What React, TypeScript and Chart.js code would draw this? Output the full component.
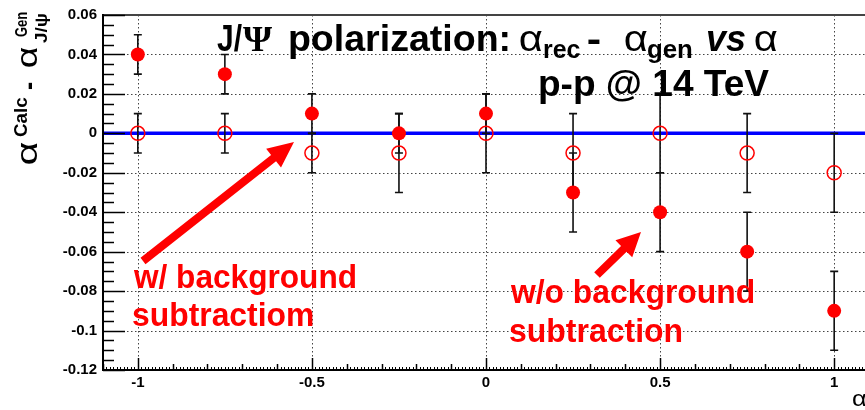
import React, { useEffect, useRef } from 'react';
import { Chart, registerables } from 'chart.js';

Chart.register(...registerables);

// ---- data ----
const ALPHA = [-1, -0.75, -0.5, -0.25, 0, 0.25, 0.5, 0.75, 1];
// w/o background subtraction (filled markers)
const WO_SUB = [0.04, 0.03, 0.01, 0, 0.01, -0.03, -0.04, -0.06, -0.09];
const WO_SUB_ERR = [0.01, 0.01, 0.01, 0.01, 0.01, 0.02, 0.02, 0.02, 0.02];
// w/ background subtraction (open markers)
const W_SUB = [0, 0, -0.01, -0.01, 0, -0.01, 0, -0.01, -0.02];
const W_SUB_ERR = [0.01, 0.01, 0.01, 0.02, 0.02, 0.02, 0.02, 0.02, 0.02];

const X_MIN = -1.1;
const X_MAX = 1.1;
const Y_MIN = -0.12;
const Y_MAX = 0.06;
const REF_LINE = [X_MIN, X_MAX];
const X_TICKS = [-1, -0.5, 0, 0.5, 1];
const X_TICK_LABELS = ['-1', '-0.5', '0', '0.5', '1'];
const Y_TICKS = [0.06, 0.04, 0.02, 0, -0.02, -0.04, -0.06, -0.08, -0.1, -0.12];
const Y_TICK_LABELS = ['0.06', '0.04', '0.02', '0', '-0.02', '-0.04', '-0.06', '-0.08', '-0.1', '-0.12'];

const SANS = '"Liberation Sans", Arial, Helvetica, sans-serif';
const SERIF = '"Liberation Serif", "Times New Roman", serif';
const RED = '#ff0000';

function fitText(ctx: CanvasRenderingContext2D, text: string, font: string, x0: number, x1: number, baseline: number, color: string) {
  ctx.save();
  ctx.font = font;
  ctx.fillStyle = color;
  ctx.textAlign = 'left';
  ctx.textBaseline = 'alphabetic';
  const m = ctx.measureText(text);
  const l = m.actualBoundingBoxLeft || 0;
  const r = m.actualBoundingBoxRight || m.width;
  const vw = l + r;
  const s = vw > 0 ? (x1 - x0) / vw : 1;
  ctx.translate(x0, baseline);
  ctx.scale(s, 1);
  ctx.fillText(text, l, 0);
  ctx.restore();
}

// rotated (-90deg) text: runs from screen yBottom up to yTop, baseline at screen x
function rotText(ctx: CanvasRenderingContext2D, text: string, font: string, yBottom: number, yTop: number, baseX: number, color: string) {
  ctx.save();
  ctx.rotate(-Math.PI / 2);
  fitText(ctx, text, font, -yBottom, -yTop, baseX, color);
  ctx.restore();
}

function arrow(ctx: CanvasRenderingContext2D, x0: number, y0: number, x1: number, y1: number, w: number, hl: number, hw: number) {
  const ang = Math.atan2(y1 - y0, x1 - x0);
  const len = Math.hypot(x1 - x0, y1 - y0);
  ctx.save();
  ctx.translate(x0, y0);
  ctx.rotate(ang);
  ctx.fillStyle = RED;
  ctx.beginPath();
  ctx.moveTo(0, -w / 2);
  ctx.lineTo(len - hl, -w / 2);
  ctx.lineTo(len - hl, -hw / 2);
  ctx.lineTo(len, 0);
  ctx.lineTo(len - hl, hw / 2);
  ctx.lineTo(len - hl, w / 2);
  ctx.lineTo(0, w / 2);
  ctx.closePath();
  ctx.fill();
  ctx.restore();
}

const rootPlugin = {
  id: 'rootStyle',
  beforeDatasetsDraw(chart: any) {
    const { ctx, chartArea: a, scales } = chart;
    const x = scales.x;
    const y = scales.y;
    ctx.save();
    ctx.strokeStyle = '#444';
    ctx.lineWidth = 1;
    ctx.setLineDash([1.5, 2.5]);
    X_TICKS.forEach((v) => {
      const px = Math.round(x.getPixelForValue(v)) + 0.5;
      ctx.beginPath();
      ctx.moveTo(px, a.top);
      ctx.lineTo(px, a.bottom);
      ctx.stroke();
    });
    Y_TICKS.forEach((v) => {
      const py = Math.round(y.getPixelForValue(v)) + 0.5;
      ctx.beginPath();
      ctx.moveTo(a.left, py);
      ctx.lineTo(a.right, py);
      ctx.stroke();
    });
    ctx.restore();
  },
  beforeDatasetDraw(chart: any, args: any) {
    if (args.index !== 1) return;
    const { ctx, scales } = chart;
    const x = scales.x;
    const y = scales.y;
    ctx.save();
    ctx.strokeStyle = '#111';
    ctx.lineWidth = 1.6;
    const series = [
      [WO_SUB, WO_SUB_ERR],
      [W_SUB, W_SUB_ERR],
    ];
    series.forEach(([vals, errs]) => {
      ALPHA.forEach((ax, i) => {
        const px = x.getPixelForValue(ax);
        const top = y.getPixelForValue(vals[i] + errs[i]);
        const bot = y.getPixelForValue(vals[i] - errs[i]);
        ctx.beginPath();
        ctx.moveTo(px, top);
        ctx.lineTo(px, bot);
        ctx.moveTo(px - 4, top);
        ctx.lineTo(px + 4, top);
        ctx.moveTo(px - 4, bot);
        ctx.lineTo(px + 4, bot);
        ctx.stroke();
      });
    });
    ctx.restore();
  },
  afterDraw(chart: any) {
    const { ctx, chartArea: a, scales } = chart;
    const x = scales.x;
    const y = scales.y;
    ctx.save();
    // frame
    ctx.strokeStyle = '#444';
    ctx.lineWidth = 2;
    ctx.beginPath();
    ctx.moveTo(a.left, a.top);
    ctx.lineTo(a.right, a.top);
    ctx.lineTo(a.right, a.bottom);
    ctx.stroke();
    ctx.strokeStyle = '#000';
    ctx.beginPath();
    ctx.moveTo(a.left, a.top - 1);
    ctx.lineTo(a.left, a.bottom);
    ctx.lineTo(a.right, a.bottom);
    ctx.stroke();
    // y ticks
    ctx.lineWidth = 1.5;
    for (let k = 0; k <= 36; k++) {
      const v = Y_MIN + k * 0.005;
      const py = Math.round(y.getPixelForValue(v)) + 0.5;
      const len = k % 4 === 0 ? 22 : 11;
      ctx.beginPath();
      ctx.moveTo(a.left, py);
      ctx.lineTo(a.left + len, py);
      ctx.stroke();
    }
    // x ticks
    ctx.lineWidth = 1;
    for (let k = -110; k <= 110; k++) {
      const v = k * 0.01;
      const px = Math.round(x.getPixelForValue(v)) + 0.5;
      const len = k % 50 === 0 ? 12 : k % 10 === 0 ? 6 : 3;
      ctx.lineWidth = k % 10 === 0 ? 1.5 : 1;
      ctx.beginPath();
      ctx.moveTo(px, a.bottom);
      ctx.lineTo(px, a.bottom - len);
      ctx.stroke();
    }
    ctx.restore();

    // title
    const T = 'bold 36px ' + SANS;
    const TS = 'bold 26px ' + SANS;
    const GA = '36px ' + SANS;
    fitText(ctx, 'J/', T, 217, 242, 51, '#000');
    fitText(ctx, 'Ψ', 'bold 36px ' + SERIF, 243, 272, 51, '#000');
    fitText(ctx, 'polarization:', T, 290, 508, 51, '#000');
    fitText(ctx, 'α', GA, 520, 542, 51, '#000');
    fitText(ctx, 'rec', TS, 544, 580, 58, '#000');
    fitText(ctx, '-', T, 588, 600, 51, '#000');
    fitText(ctx, 'α', GA, 625, 647, 51, '#000');
    fitText(ctx, 'gen', TS, 648, 692, 58, '#000');
    fitText(ctx, 'vs', 'italic bold 36px ' + SANS, 707, 745, 51, '#000');
    fitText(ctx, 'α', GA, 755, 777, 51, '#000');
    fitText(ctx, 'p-p @ 14 TeV', T, 540, 769, 96, '#000');

    // annotations
    const R = 'bold 33px ' + SANS;
    fitText(ctx, 'w/ background', R, 133, 355, 288, RED);
    fitText(ctx, 'subtractiom', R, 133, 313, 326, RED);
    fitText(ctx, 'w/o background', R, 510, 753, 303, RED);
    fitText(ctx, 'subtraction', R, 510, 682, 342, RED);
    arrow(ctx, 143, 261, 294, 142, 8, 26, 24);
    arrow(ctx, 597, 275, 641, 232, 8, 24, 24);

    // y axis title
    const YA = '30px ' + SANS;
    rotText(ctx, 'α', YA, 164, 142, 37, '#000');
    rotText(ctx, 'Calc', 'bold 19px ' + SANS, 137, 97, 27, '#000');
    rotText(ctx, '-', 'bold 28px ' + SANS, 89, 82, 38, '#000');
    rotText(ctx, 'α', YA, 67, 47, 37, '#000');
    rotText(ctx, 'Gen', 'bold 17px ' + SANS, 37, 12, 27, '#000');
    rotText(ctx, 'J/ψ', 'bold 16px ' + SANS, 43, 13, 47, '#000');

    // x axis title (cut by the page edge)
    fitText(ctx, 'α', '22px ' + SANS, 852, 867, 406, '#000');
  },
};

export default function App() {
  const ref = useRef<HTMLCanvasElement | null>(null);
  useEffect(() => {
    if (!ref.current) return;
    const tickFont = { family: SANS, size: 15, weight: 'bold' as const };
    const chart = new Chart(ref.current, {
      type: 'scatter',
      data: {
        datasets: [
          {
            label: 'w/o background subtraction',
            data: ALPHA.map((a, i) => ({ x: a, y: WO_SUB[i] })),
            pointStyle: 'circle',
            pointRadius: 7,
            backgroundColor: RED,
            borderColor: RED,
            borderWidth: 0,
            showLine: false,
          },
          {
            label: 'w/ background subtraction',
            data: ALPHA.map((a, i) => ({ x: a, y: W_SUB[i] })),
            pointStyle: 'circle',
            pointRadius: 7,
            backgroundColor: 'rgba(0,0,0,0)',
            borderColor: RED,
            borderWidth: 1.5,
            showLine: false,
          },
          {
            type: 'line',
            label: 'zero',
            data: REF_LINE.map((v) => ({ x: v, y: 0 })),
            borderColor: '#0000ff',
            borderWidth: 3.5,
            pointRadius: 0,
            showLine: true,
          } as any,
        ],
      },
      options: {
        responsive: false,
        animation: false,
        devicePixelRatio: 1,
        layout: { padding: { left: 0, top: 15, right: 11, bottom: 0 } },
        plugins: { legend: { display: false }, tooltip: { enabled: false }, title: { display: false } },
        scales: {
          x: {
            type: 'linear',
            min: X_MIN,
            max: X_MAX,
            afterBuildTicks: (s: any) => {
              s.ticks = X_TICKS.map((v) => ({ value: v }));
            },
            afterFit: (s: any) => {
              s.height = 40;
            },
            grid: { display: false, drawTicks: false },
            border: { display: false },
            ticks: {
              autoSkip: false,
              maxRotation: 0,
              padding: 4,
              color: '#000',
              font: tickFont,
              callback: (_v: any, i: number) => X_TICK_LABELS[i],
            },
          },
          y: {
            type: 'linear',
            min: Y_MIN,
            max: Y_MAX,
            afterBuildTicks: (s: any) => {
              s.ticks = Y_TICKS.map((v) => ({ value: v }));
            },
            afterFit: (s: any) => {
              s.width = 103;
            },
            grid: { display: false, drawTicks: false },
            border: { display: false },
            ticks: {
              autoSkip: false,
              padding: 6,
              color: '#000',
              font: tickFont,
              callback: (_v: any, i: number) => Y_TICK_LABELS[i],
            },
          },
        },
      },
      plugins: [rootPlugin],
    });
    return () => chart.destroy();
  }, []);

  return (
    <div style={{ position: 'fixed', left: 0, top: 0, width: 865, height: 410, overflow: 'hidden', background: '#fff' }}>
      <canvas ref={ref} width={880} height={410} style={{ display: 'block', width: 880, height: 410 }} />
    </div>
  );
}
